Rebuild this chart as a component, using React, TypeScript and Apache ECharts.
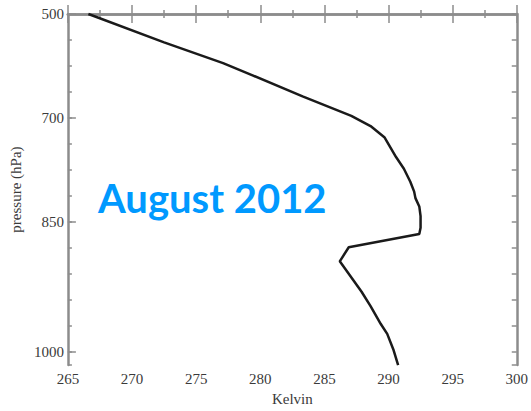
import React, { useEffect, useRef } from "react";
import * as echarts from "echarts";

// Temperature profile (Kelvin) along the vertical level axis
const temperatureK = [266.6, 272.5, 277.1, 279.4, 283.3, 287.1, 288.6, 289.7, 290.6, 291.2, 291.7, 292.0, 292.1, 292.4, 292.5, 292.5, 292.4, 286.9, 286.2, 287.9, 288.6, 289.4, 289.9, 290.4, 290.75];
// Position on the (level-indexed) pressure axis: 0 = 500 hPa ... 13 = 1000 hPa
const levelPosition = [0, 1.09, 1.89, 2.36, 3.17, 3.92, 4.31, 4.75, 5.51, 5.95, 6.45, 6.83, 7.08, 7.4, 7.77, 8.22, 8.46, 8.97, 9.51, 10.68, 11.23, 11.92, 12.3, 12.93, 13.5];

const pressureTickLabels = ["500", "700", "850", "1000"];
const pressureTickPositions = [0, 4, 8, 13];

const xTitle = "Kelvin";
const yTitle = "pressure (hPa)";
const overlayText = "August 2012";

const AXIS_COLOR = "#8c8c8c";
const LABEL_COLOR = "#3a3a3a";
const SERIF = "Liberation Serif";

export default function App() {
  const ref = useRef<HTMLDivElement>(null);

  useEffect(() => {
    document.body.style.margin = "0";
    if (!ref.current) return;
    const chart = echarts.init(ref.current, undefined, { renderer: "svg" });

    const axisLine = { show: true, lineStyle: { color: AXIS_COLOR, width: 2.5 } };
    const tickStyle = { color: AXIS_COLOR, width: 1.5 };

    const xBase = {
      type: "value" as const,
      min: 265,
      max: 300,
      interval: 5,
      splitLine: { show: false },
      axisLine,
    };
    const yBase = {
      type: "value" as const,
      min: 0,
      max: 13.5,
      interval: 1,
      inverse: true,
      splitLine: { show: false },
      axisLine,
    };

    const option: any = {
      animation: false,
      backgroundColor: "#ffffff",
      textStyle: { fontFamily: SERIF },
      grid: { left: 63, right: 13, top: 14, bottom: 40, containLabel: false },
      xAxis: [
        {
          ...xBase,
          position: "bottom",
          axisTick: { show: true, inside: true, length: 9, lineStyle: tickStyle },
          minorTick: { show: true, splitNumber: 2, length: 4, lineStyle: tickStyle },
          axisLabel: { color: LABEL_COLOR, fontFamily: SERIF, fontSize: 15, margin: 6 },
          name: xTitle,
          nameLocation: "middle",
          nameGap: 24,
          nameTextStyle: { color: LABEL_COLOR, fontFamily: SERIF, fontSize: 15 },
        },
        {
          ...xBase,
          position: "top",
          axisTick: { show: true, inside: true, length: 9, lineStyle: tickStyle },
          minorTick: { show: true, splitNumber: 2, length: 4, lineStyle: tickStyle },
          axisLabel: { show: false },
        },
      ],
      yAxis: [
        {
          ...yBase,
          position: "left",
          axisTick: { show: true, inside: true, length: 4, lineStyle: tickStyle },
          axisLabel: {
            color: LABEL_COLOR,
            fontFamily: SERIF,
            fontSize: 15,
            margin: 4,
            formatter: (v: number) => {
              const i = pressureTickPositions.indexOf(v);
              return i >= 0 ? pressureTickLabels[i] : "";
            },
          },
          name: yTitle,
          nameLocation: "middle",
          nameGap: 40,
          nameRotate: 90,
          nameTextStyle: { color: LABEL_COLOR, fontFamily: SERIF, fontSize: 15 },
        },
        {
          ...yBase,
          position: "left",
          axisLine: { show: false },
          axisTick: { show: true, inside: true, length: 8, lineStyle: tickStyle, customValues: pressureTickPositions },
          axisLabel: { show: false },
        },
        {
          ...yBase,
          position: "right",
          axisTick: { show: true, inside: true, length: 5, lineStyle: tickStyle },
          axisLabel: { show: false },
        },
      ],
      series: [
        {
          type: "line",
          xAxisIndex: 0,
          yAxisIndex: 0,
          data: temperatureK.map((t, i) => [t, levelPosition[i]]),
          showSymbol: false,
          symbol: "none",
          lineStyle: { color: "#1a1a1a", width: 2.5 },
          clip: false,
        },
      ],
      graphic: [
        {
          type: "text",
          x: 98,
          y: 198,
          style: {
            text: overlayText,
            font: "bold 40px Lato",
            fill: "#0099ff",
            align: "left",
            verticalAlign: "middle",
          },
        },
      ],
    };

    chart.setOption(option);
    return () => chart.dispose();
  }, []);

  return <div ref={ref} style={{ width: 531, height: 411 }} />;
}
